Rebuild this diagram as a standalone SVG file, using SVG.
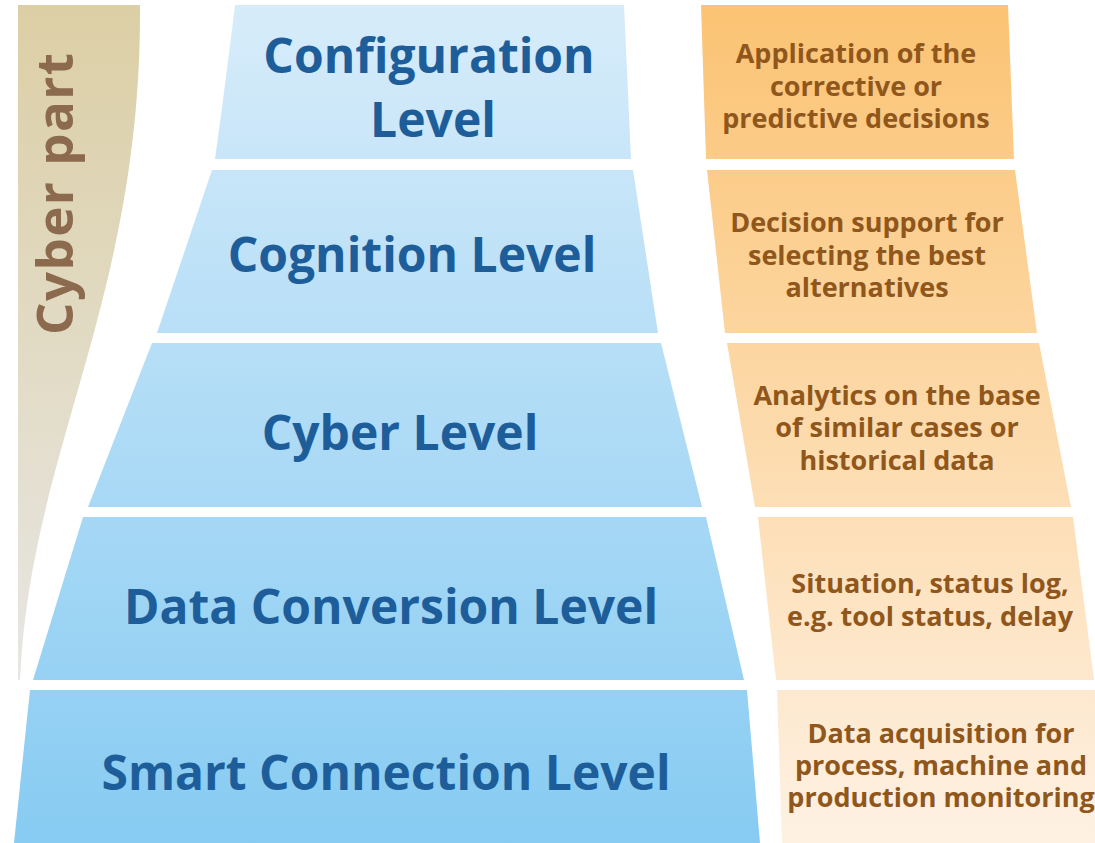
<svg xmlns="http://www.w3.org/2000/svg" width="1095" height="843" viewBox="0 0 1095 843">
<defs>
<linearGradient id="gBlue" gradientUnits="userSpaceOnUse" x1="0" y1="5" x2="0" y2="843">
<stop offset="0" stop-color="#d7ecfa"/><stop offset="1" stop-color="#87cbf2"/>
</linearGradient>
<linearGradient id="gOrange" gradientUnits="userSpaceOnUse" x1="0" y1="5" x2="0" y2="843">
<stop offset="0" stop-color="#fbc373"/><stop offset="1" stop-color="#fef1e3"/>
</linearGradient>
<linearGradient id="gTan" gradientUnits="userSpaceOnUse" x1="0" y1="5" x2="0" y2="680">
<stop offset="0" stop-color="#dccfa5"/><stop offset="1" stop-color="#e7e6e3"/>
</linearGradient>
</defs>
<style>
.blue{fill:url(#gBlue)}
.org{fill:url(#gOrange)}
.lvl{font-family:"Open Sans","Liberation Sans",sans-serif;font-weight:700;font-size:48px;fill:#1d5e9a;text-anchor:middle}
.desc{font-family:"Open Sans","Liberation Sans",sans-serif;font-weight:700;font-size:27px;fill:#8f571c;text-anchor:middle}
.cp{font-family:"Open Sans","Liberation Sans",sans-serif;font-weight:700;font-size:51px;fill:#8c6a4d;text-anchor:middle}
</style>
<rect width="1095" height="843" fill="#ffffff"/>

<g id="cyber-part">
<path d="M18,5 L140,5 C142,300 30,450 20,680 L18,680 Z" fill="url(#gTan)"/>
<text class="cp" transform="translate(73,194) rotate(-90)" textLength="282">Cyber part</text>
</g>

<g id="configuration-level">
<path class="blue" d="M235,5 L624,5 L631,159 L215,159 Q226,80 235,5 Z"/>
<text class="lvl" x="429" y="73">Configuration</text>
<text class="lvl" x="433" y="137">Level</text>
</g>
<g id="cognition-level">
<path class="blue" d="M212,170 L633,170 L658,333 L157,333 Z"/>
<text class="lvl" x="412" y="272">Cognition Level</text>
</g>
<g id="cyber-level">
<path class="blue" d="M152,343 L661,343 L702,507 L88,507 Z"/>
<text class="lvl" x="400" y="450">Cyber Level</text>
</g>
<g id="data-conversion-level">
<path class="blue" d="M83,517 L706,517 L744,680 L33,680 Z"/>
<text class="lvl" x="391" y="624">Data Conversion Level</text>
</g>
<g id="smart-connection-level">
<path class="blue" d="M30,690 L747,690 L760,843 L14,843 Z"/>
<text class="lvl" x="386" y="790">Smart Connection Level</text>
</g>

<g id="desc-configuration">
<path class="org" d="M701,5 L1008,5 L1014,159 L706,159 Z"/>
<text class="desc" x="856" y="63">Application of the</text>
<text class="desc" x="856" y="96">corrective or</text>
<text class="desc" x="856" y="128">predictive decisions</text>
</g>
<g id="desc-cognition">
<path class="org" d="M707,170 L1015,170 L1037,333 L725,333 Z"/>
<text class="desc" x="867" y="232">Decision support for</text>
<text class="desc" x="867" y="265">selecting the best</text>
<text class="desc" x="867" y="297">alternatives</text>
</g>
<g id="desc-cyber">
<path class="org" d="M727,343 L1039,343 L1071,507 L755,507 Z"/>
<text class="desc" x="897" y="405">Analytics on the base</text>
<text class="desc" x="897" y="437">of similar cases or</text>
<text class="desc" x="897" y="470">historical data</text>
</g>
<g id="desc-data-conversion">
<path class="org" d="M758,517 L1073,517 L1094,680 L776,680 Z"/>
<text class="desc" x="930" y="593">Situation, status log,</text>
<text class="desc" x="930" y="626">e.g. tool status, delay</text>
</g>
<g id="desc-smart-connection">
<path class="org" d="M777,690 L1100,690 L1100,843 L782,843 Z"/>
<text class="desc" x="941" y="743">Data acquisition for</text>
<text class="desc" x="941" y="775">process, machine and</text>
<text class="desc" x="941" y="807">production monitoring</text>
</g>
<g id="connectors"/>
</svg>
